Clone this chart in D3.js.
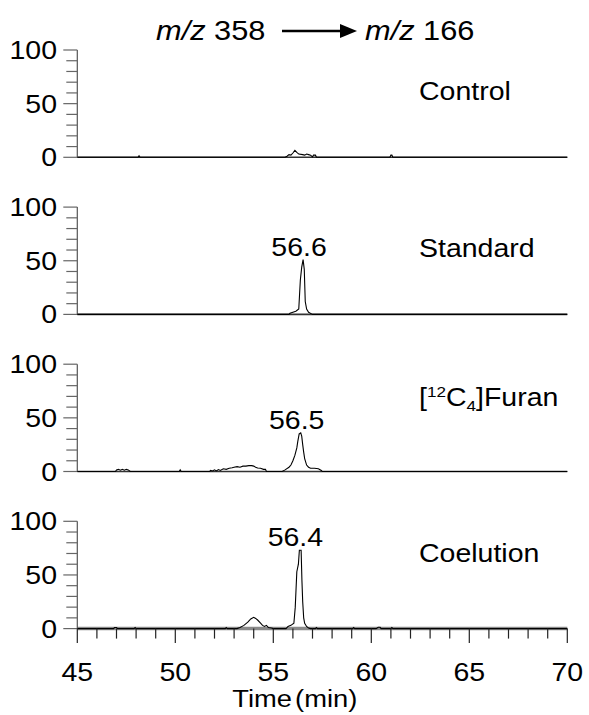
<!DOCTYPE html>
<html>
<head>
<meta charset="utf-8">
<script src="https://cdn.jsdelivr.net/npm/d3@7"></script>
<style>
  body { margin: 0; background: #fff; }
  text { font-family: "Liberation Sans", Arial, sans-serif; fill: #000; }
</style>
</head>
<body>
<div id="chart"></div>
<script>
// retention time (min), relative abundance (%)
const control = [
  [45, 0], [48.1, 0], [48.15, 1.5], [48.2, 0],
  [55.6, 0], [55.7, 1], [55.8, 2.5], [55.9, 2], [56.0, 4], [56.1, 6.5], [56.2, 4.5], [56.3, 3],
  [56.5, 2.5], [56.6, 2], [56.7, 3], [56.8, 2.5], [56.9, 2], [57.0, 0.3], [57.05, 2], [57.15, 2], [57.2, 0],
  [60.95, 0], [61.0, 2], [61.05, 2], [61.1, 0], [70, 0]
]
const standard = [
  [45, 0], [55.8, 0], [55.85, 1], [56.0, 2], [56.15, 3], [56.3, 5], [56.38, 32], [56.45, 44],
  [56.52, 51], [56.58, 42], [56.63, 12], [56.7, 5], [56.8, 2], [56.95, 0.5], [57.0, 0], [70, 0]
]
const furan = [
  [45, 0], [46.95, 0], [47.0, 1.5], [47.1, 2], [47.2, 1.2], [47.3, 2], [47.4, 1.2], [47.5, 2], [47.6, 1.5], [47.7, 0],
  [50.2, 0], [50.25, 1.5], [50.3, 0],
  [51.75, 0], [51.8, 1], [51.9, 0.5], [52.0, 1.5], [52.1, 0.5], [52.2, 1.8], [52.3, 1], [52.45, 2.5], [52.6, 2],
  [52.75, 3], [52.9, 3.5], [53.0, 4], [53.15, 4.5], [53.3, 4], [53.45, 5], [53.6, 5], [53.75, 5.5], [53.9, 5.5],
  [54.0, 5], [54.1, 4], [54.2, 3.2], [54.35, 3], [54.5, 2], [54.6, 2], [54.65, 0],
  [55.45, 0], [55.6, 1.5], [55.8, 4], [55.9, 6], [56.0, 10], [56.1, 15], [56.2, 22], [56.25, 28], [56.32, 35],
  [56.4, 36], [56.45, 33], [56.5, 25], [56.55, 18], [56.6, 12], [56.7, 6], [56.8, 4], [56.9, 3], [57.1, 3],
  [57.3, 2.5], [57.45, 1], [57.5, 0], [70, 0]
]
const coelution = [
  [45, 0], [46.85, 0], [46.9, 1], [47.0, 1], [47.05, 0], [47.9, 0], [47.95, 1], [48.0, 0],
  [52.55, 0], [52.6, 1], [52.65, 0],
  [53.15, 0], [53.3, 1], [53.5, 3], [53.7, 6], [53.85, 9], [54.0, 10.5], [54.1, 9.5], [54.2, 8], [54.35, 5],
  [54.45, 3], [54.55, 2], [54.65, 3], [54.75, 1], [54.9, 0.5], [55.0, 0],
  [55.65, 0], [55.75, 2], [55.9, 3], [56.05, 5], [56.12, 20], [56.2, 53], [56.28, 60], [56.33, 73], [56.42, 73],
  [56.46, 45], [56.5, 25], [56.55, 10], [56.6, 5], [56.7, 2], [56.8, 0.5], [56.9, 0],
  [57.15, 0], [57.2, 1], [57.25, 0], [59.05, 0], [59.1, 1], [59.15, 0],
  [60.25, 0], [60.35, 1.2], [60.45, 1.2], [60.5, 0], [61.0, 0], [61.05, 1], [61.1, 0], [70, 0]
]

const series = [control, standard, furan, coelution]
const panelLabels = ['Control', 'Standard', '[12C4]Furan', 'Coelution']
const peakLabels = [null, '56.6', '56.5', '56.4']
const yTicks = [0, 10, 20, 30, 40, 50, 60, 70, 80, 90, 100]
const yLabels = [0, 50, 100]
const xTicks = d3.range(45, 71, 1)
const xLabels = [45, 50, 55, 60, 65, 70]

const W = 589, H = 715
const panelTop = 50, panelH = 107.3, panelStep = 157.1
const stretch = 1.14   // the original lettering is a bit wider than Arial

const svg = d3.select('#chart').append('svg')
  .attr('width', W)
  .attr('height', H)

const x = d3.scaleLinear().domain([45, 70]).range([77.3, 567.3])

// text helper: horizontally stretched text anchored at (tx, ty)
function label(g, tx, ty, anchor, size) {
  return g.append('text')
    .attr('transform', `translate(${tx},${ty}) scale(${stretch},1)`)
    .attr('text-anchor', anchor)
    .style('font-size', size + 'px')
}

const line = d3.line()
  .x(d => x(d[0]))

series.forEach((data, i) => {
  const top = panelTop + i * panelStep
  const y = d3.scaleLinear().domain([0, 100]).range([top + panelH, top])
  const g = svg.append('g')
  const last = i === series.length - 1

  // baseline
  g.append('line')
    .attr('x1', x(45)).attr('x2', x(70))
    .attr('y1', y(0)).attr('y2', y(0))
    .style('stroke', last ? '#8a8a8a' : '#333')
    .style('stroke-width', last ? 3.5 : 1.6)

  // y axis
  g.append('line')
    .attr('x1', x(45)).attr('x2', x(45))
    .attr('y1', y(100)).attr('y2', y(0))
    .style('stroke', '#555')
    .style('stroke-width', 1.2)

  g.selectAll('.ytick')
    .data(yTicks)
    .join('line')
      .attr('class', 'ytick')
      .attr('x1', d => x(45) - (d % 50 === 0 ? 14 : 11))
      .attr('x2', x(45))
      .attr('y1', d => y(d))
      .attr('y2', d => y(d))
      .style('stroke', '#666')
      .style('stroke-width', 1.2)

  yLabels.forEach(v => {
    label(g, 57, y(v) + 9, 'end', 25).text(v)
  })

  // trace
  g.append('path')
    .datum(data)
    .attr('d', line.y(d => y(d[1])))
    .style('fill', 'none')
    .style('stroke', '#000')
    .style('stroke-width', 1.1)

  // panel name
  const nameY = [100, 257, 406, 562][i]
  const t = label(g, 419, nameY, 'start', 25)
  if (panelLabels[i] === '[12C4]Furan') {
    t.append('tspan').text('[')
    t.append('tspan').attr('dy', -9).style('font-size', '15px').text('12')
    t.append('tspan').attr('dy', 9).text('C')
    t.append('tspan').attr('dy', 5).style('font-size', '15px').text('4')
    t.append('tspan').attr('dy', -5).text(']Furan')
  } else {
    t.text(panelLabels[i])
  }

  // peak retention time
  if (peakLabels[i]) {
    const apex = data.reduce((a, b) => b[1] > a[1] ? b : a)
    label(g, x(apex[0]) - 4, y(apex[1]) - 4, 'middle', 25).text(peakLabels[i])
  }

  // x axis on the bottom panel
  if (last) {
    g.selectAll('.xtick')
      .data(xTicks)
      .join('line')
        .attr('class', 'xtick')
        .attr('x1', d => x(d))
        .attr('x2', d => x(d))
        .attr('y1', y(0))
        .attr('y2', d => y(0) + (d % 5 === 0 ? 14.5 : 10))
        .style('stroke', '#222')
        .style('stroke-width', 1.2)

    xLabels.forEach(v => {
      label(g, x(v), 681, 'middle', 25).text(v)
    })

    label(g, x(56.1), 707, 'middle', 24)
      .style('word-spacing', '-4px')
      .text('Time (min)')
  }
})

// title
const title = label(svg, 156, 40, 'start', 27)
title.append('tspan').style('font-style', 'italic').text('m/z')
title.append('tspan').text(' 358')

svg.append('line')
  .attr('x1', 282).attr('x2', 342)
  .attr('y1', 31).attr('y2', 31)
  .style('stroke', '#000')
  .style('stroke-width', 2.5)
svg.append('path')
  .attr('d', 'M340,24 L357,31 L340,38 Z')
  .style('fill', '#000')

const title2 = label(svg, 365, 40, 'start', 27)
title2.append('tspan').style('font-style', 'italic').text('m/z')
title2.append('tspan').text(' 166')
</script>
</body>
</html>
